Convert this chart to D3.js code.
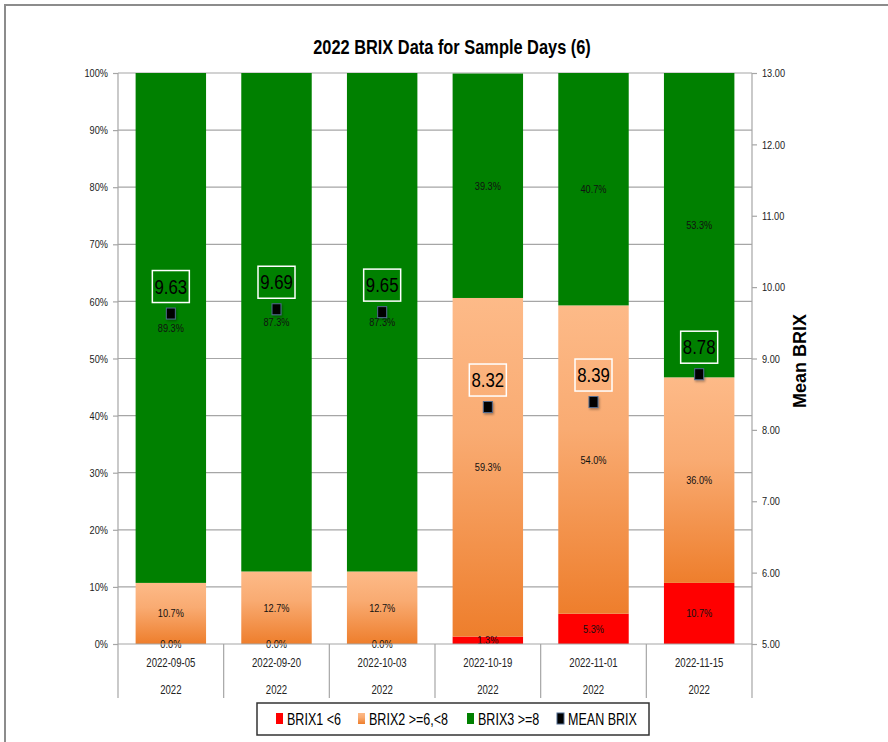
<!DOCTYPE html>
<html>
<head>
<meta charset="utf-8">
<script src="https://cdn.jsdelivr.net/npm/d3@7"></script>
<style>
  html, body { margin: 0; padding: 0; background: #fff; }
  svg text { font-family: "Liberation Sans", Arial, sans-serif; }
</style>
</head>
<body>
<svg id="chart" width="888" height="742"></svg>
<script>
// Sample days and their groups
const dates = ["2022-09-05", "2022-09-20", "2022-10-03", "2022-10-19", "2022-11-01", "2022-11-15"];
const years = ["2022", "2022", "2022", "2022", "2022", "2022"];
// Share of samples in each BRIX class (%)
const brix1 = [0.0, 0.0, 0.0, 1.3, 5.3, 10.7];
const brix2 = [10.7, 12.7, 12.7, 59.3, 54.0, 36.0];
const brix3 = [89.3, 87.3, 87.3, 39.3, 40.7, 53.3];
// Mean BRIX per sample day
const meanBrix = [9.63, 9.69, 9.65, 8.32, 8.39, 8.78];
// Axis ticks
const pctTicks = [0, 10, 20, 30, 40, 50, 60, 70, 80, 90, 100];
const brixTicks = [5, 6, 7, 8, 9, 10, 11, 12, 13];
const seriesNames = ["BRIX1 <6", "BRIX2 >=6,<8", "BRIX3 >=8", "MEAN BRIX"];

const svg = d3.select("#chart");
const plotL = 118, plotR = 752, plotT = 73, plotB = 644;
const SX = 0.8; // horizontal squeeze for a condensed look

// Move a text's x/y into a transform and squeeze it horizontally
function narrow(sel, sx = SX) {
  sel.each(function () {
    const t = d3.select(this);
    const tx = +t.attr("x") || 0, ty = +t.attr("y") || 0;
    t.attr("x", null).attr("y", null).attr("transform", `translate(${tx},${ty}) scale(${sx},1)`);
  });
}

const rows = dates.map((d, i) => ({ date: d, b1: brix1[i], b2: brix2[i], b3: brix3[i], mean: meanBrix[i] }));

const x = d3.scaleBand().domain(dates).range([plotL, plotR]).paddingInner(1 / 3).paddingOuter(1 / 6);
const y = d3.scaleLinear().domain([0, 100]).range([plotB, plotT]);
const y2 = d3.scaleLinear().domain([5, 13]).range([plotB, plotT]);

const defs = svg.append("defs");
const grad = defs.append("linearGradient").attr("id", "orangeGrad")
  .attr("x1", 0).attr("y1", 0).attr("x2", 0).attr("y2", 1);
grad.append("stop").attr("offset", "0%").attr("stop-color", "#fdba88");
grad.append("stop").attr("offset", "40%").attr("stop-color", "#f9ab72");
grad.append("stop").attr("offset", "100%").attr("stop-color", "#ee7e2c");
const shadow = defs.append("filter").attr("id", "shadow").attr("x", "-50%").attr("y", "-50%").attr("width", "200%").attr("height", "200%");
shadow.append("feDropShadow").attr("dx", 1).attr("dy", 1.5).attr("stdDeviation", 0.8).attr("flood-color", "#000").attr("flood-opacity", 0.35);

// Outer frame
svg.append("path").attr("d", "M5,742 V5 H888").attr("fill", "none").attr("stroke", "#8c8c8c").attr("stroke-width", 2);

// Title
svg.append("text").attr("x", 452).attr("y", 54).attr("text-anchor", "middle")
  .attr("font-size", 20).attr("font-weight", "bold").attr("fill", "#000")
  .text("2022 BRIX Data for Sample Days (6)")
  .call(narrow, 0.82);

// Horizontal gridlines
svg.append("g").selectAll("line").data(pctTicks.filter(t => t > 0)).join("line")
  .attr("x1", plotL).attr("x2", plotR).attr("y1", d => y(d)).attr("y2", d => y(d))
  .attr("stroke", "#a6a6a6").attr("stroke-width", 1.2);

// Stacked bars
const stack = d3.stack().keys(["b1", "b2", "b3"]);
const layers = stack(rows);
const fills = { b1: "#ff0000", b2: "url(#orangeGrad)", b3: "#008000" };
svg.append("g").selectAll("g").data(layers).join("g")
  .attr("fill", d => fills[d.key])
  .selectAll("rect").data(d => d).join("rect")
  .attr("x", d => x(d.data.date)).attr("width", x.bandwidth())
  .attr("y", d => y(d[1])).attr("height", d => y(d[0]) - y(d[1]));

// Segment value labels
const labelG = svg.append("g").attr("font-size", 11.5).attr("fill", "#111").attr("text-anchor", "middle");
layers.forEach(layer => {
  labelG.selectAll(null).data(layer).join("text")
    .attr("x", d => x(d.data.date) + x.bandwidth() / 2)
    .attr("y", d => (y(d[0]) + y(d[1])) / 2 + 4)
    .text(d => d3.format(".1f")(d[1] - d[0]) + "%")
    .call(narrow);
});

// Left axis
const yAxis = svg.append("g").attr("transform", `translate(${plotL},0)`)
  .call(d3.axisLeft(y).tickValues(pctTicks).tickFormat(d => d + "%").tickSize(5).tickPadding(5));
yAxis.select(".domain").remove();
yAxis.selectAll(".tick line").attr("stroke", "#a6a6a6").attr("stroke-width", 1.2);
yAxis.selectAll("text").attr("font-size", 11.5).attr("fill", "#222").attr("font-family", null).call(narrow);

// Right axis
const y2Axis = svg.append("g").attr("transform", `translate(${plotR},0)`)
  .call(d3.axisRight(y2).tickValues(brixTicks).tickFormat(d3.format(".2f")).tickSize(5).tickPadding(5));
y2Axis.select(".domain").remove();
y2Axis.selectAll(".tick line").attr("stroke", "#a6a6a6").attr("stroke-width", 1.2);
y2Axis.selectAll("text").attr("font-size", 11.5).attr("fill", "#222").attr("font-family", null).call(narrow);

// Axis lines and category dividers
const bounds = dates.map(d => x(d) - x.step() * x.paddingInner() / 2).concat([plotR]);
bounds[0] = plotL;
svg.append("g").selectAll("line").data(bounds).join("line")
  .attr("x1", d => d).attr("x2", d => d)
  .attr("y1", (d, i) => (i === 0 || i === bounds.length - 1) ? plotT : plotB).attr("y2", 698)
  .attr("stroke", "#a6a6a6").attr("stroke-width", 1.2);
svg.append("line").attr("x1", plotL).attr("x2", plotR).attr("y1", plotB).attr("y2", plotB)
  .attr("stroke", "#a6a6a6").attr("stroke-width", 1.2);

// Category labels
const catG = svg.append("g").attr("font-size", 12).attr("fill", "#222").attr("text-anchor", "middle");
catG.selectAll(".date").data(dates).join("text").attr("class", "date")
  .attr("x", d => x(d) + x.bandwidth() / 2).attr("y", 667).text(d => d).call(narrow);
catG.selectAll(".year").data(rows).join("text").attr("class", "year")
  .attr("x", d => x(d.date) + x.bandwidth() / 2).attr("y", 694).text((d, i) => years[i]).call(narrow);

// Mean BRIX markers and labels
const meanG = svg.append("g");
meanG.selectAll("rect").data(rows).join("rect")
  .attr("x", d => x(d.date) + x.bandwidth() / 2 - 4.5).attr("y", d => y2(d.mean) - 5.5)
  .attr("width", 9).attr("height", 11).attr("fill", "#000")
  .attr("stroke", "#4f6a8f").attr("stroke-width", 1).attr("filter", "url(#shadow)");
const boxes = meanG.selectAll("g.lab").data(rows).join("g").attr("class", "lab")
  .attr("transform", d => `translate(${x(d.date) + x.bandwidth() / 2},${y2(d.mean) - 11})`);
boxes.append("rect").attr("x", -18.5).attr("y", -32).attr("width", 37).attr("height", 32)
  .attr("fill", "none").attr("stroke", "#fff").attr("stroke-width", 1.5);
boxes.append("text").attr("x", 0).attr("y", -9).attr("text-anchor", "middle")
  .attr("font-size", 21).attr("fill", "#000").text(d => d3.format(".2f")(d.mean)).call(narrow);

// Right axis title
svg.append("text").attr("transform", "translate(806,361) rotate(-90)")
  .attr("text-anchor", "middle").attr("font-size", 18).attr("font-weight", "bold")
  .text("Mean BRIX");

// Legend
const legend = svg.append("g");
legend.append("rect").attr("x", 257).attr("y", 703).attr("width", 392).attr("height", 32)
  .attr("fill", "#fff").attr("stroke", "#333").attr("stroke-width", 1.5);
const legX = [276, 358, 467, 557];
const legFill = ["#ff0000", "url(#orangeGrad)", "#008000", "#000"];
const items = legend.selectAll("g").data(seriesNames).join("g")
  .attr("transform", (d, i) => `translate(${legX[i]},713)`);
items.append("rect").attr("width", 7).attr("height", 11)
  .attr("fill", (d, i) => legFill[i])
  .attr("stroke", (d, i) => i === 3 ? "#4f6a8f" : "none").attr("stroke-width", 1);
items.append("text").attr("x", 11).attr("y", 11.5).attr("font-size", 16.5).attr("fill", "#000")
  .text(d => d).call(narrow, 0.76);
</script>
</body>
</html>
